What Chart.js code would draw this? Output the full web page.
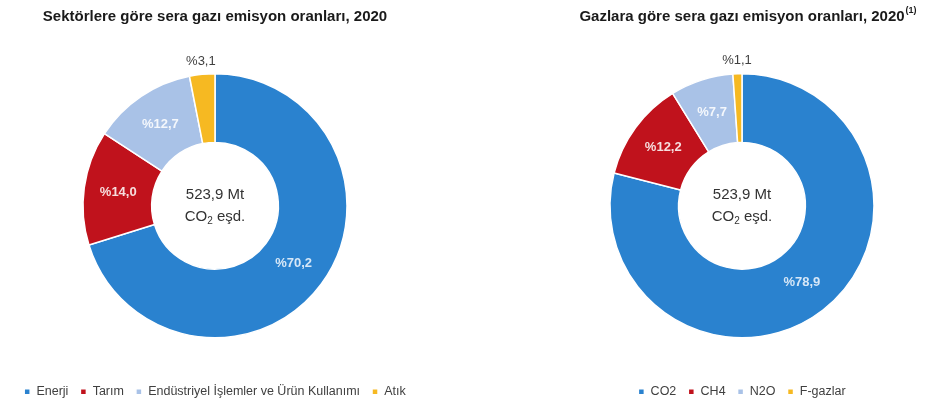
<!DOCTYPE html>
<html>
<head>
<meta charset="utf-8">
<script src="https://cdn.jsdelivr.net/npm/chart.js@4"></script>
<style>
  body { margin: 0; background: #fff; width: 951px; height: 408px; position: relative; overflow: hidden; }
  .box { position: absolute; top: 0; height: 408px; }
  #left { left: 0; width: 440px; }
  #right { left: 540px; width: 404px; }
</style>
</head>
<body>
<div class="box" id="left"><canvas id="sectorChart"></canvas></div>
<div class="box" id="right"><canvas id="gasChart"></canvas></div>
<script>
// Data

const sectorLabels = ["Enerji", "Tarım", "Endüstriyel İşlemler ve Ürün Kullanımı", "Atık"];
const sectorShares = [70.2, 14.0, 12.7, 3.1];

const gasLabels = ["CO2", "CH4", "N2O", "F-gazlar"];
const gasShares = [78.9, 12.2, 7.7, 1.1];

const totalEmission = "523,9";

const sliceColors = ["#2a82cf", "#c0121c", "#a9c2e7", "#f6b922"];
const labelColors = ["#d6e7f7", "#f6dede", "#f4f7fc", "#404040"];
const FONT = "'Liberation Sans', Arial, sans-serif";

// labels on slices
const sliceLabels = {
  id: "sliceLabels",
  afterDatasetsDraw(chart) {
    const ctx = chart.ctx;
    const values = chart.data.datasets[0].data;
    chart.getDatasetMeta(0).data.forEach((arc, i) => {
      const p = arc.getProps(["x", "y", "startAngle", "endAngle", "innerRadius", "outerRadius"], true);
      const mid = (p.startAngle + p.endAngle) / 2;
      const outside = values[i] < 5;
      const r = outside ? p.outerRadius + 13 : (p.innerRadius + p.outerRadius) / 2;
      ctx.save();
      ctx.font = outside ? `13px ${FONT}` : `bold 13px ${FONT}`;
      ctx.fillStyle = outside ? "#404040" : labelColors[i];
      ctx.textAlign = "center";
      ctx.textBaseline = "middle";
      ctx.fillText("%" + values[i].toFixed(1).replace(".", ","), p.x + Math.cos(mid) * r, p.y + Math.sin(mid) * r);
      ctx.restore();
    });
  },
};

// total in the hole
const centerText = {
  id: "centerText",
  afterDatasetsDraw(chart) {
    const ctx = chart.ctx;
    const arc = chart.getDatasetMeta(0).data[0];
    const cx = arc.x, cy = arc.y;
    ctx.save();
    ctx.fillStyle = "#333";
    ctx.textBaseline = "middle";
    ctx.font = `15px ${FONT}`;
    ctx.textAlign = "center";
    ctx.fillText(`${totalEmission} Mt`, cx, cy - 11);

    const w1 = ctx.measureText("CO").width;
    const w3 = ctx.measureText(" eşd.").width;
    ctx.font = `10px ${FONT}`;
    const w2 = ctx.measureText("2").width;
    let x = cx - (w1 + w2 + w3) / 2;
    ctx.textAlign = "left";
    ctx.font = `15px ${FONT}`;
    ctx.fillText("CO", x, cy + 11);
    x += w1;
    ctx.font = `10px ${FONT}`;
    ctx.fillText("2", x, cy + 15);
    x += w2;
    ctx.font = `15px ${FONT}`;
    ctx.fillText(" eşd.", x, cy + 11);
    ctx.restore();
  },
};

// footnote mark after the title
const titleNote = {
  id: "titleNote",
  afterDraw(chart) {
    const note = chart.options.plugins.titleNote && chart.options.plugins.titleNote.text;
    if (!note || !chart.titleBlock) return;
    const tb = chart.titleBlock;
    const ctx = chart.ctx;
    ctx.save();
    ctx.font = `bold 15px ${FONT}`;
    const w = ctx.measureText(chart.options.plugins.title.text).width;
    ctx.font = `bold 9px ${FONT}`;
    ctx.fillStyle = "#1a1a1a";
    ctx.textAlign = "left";
    ctx.textBaseline = "top";
    ctx.fillText(note, tb.left + tb.width / 2 + w / 2 + 1, tb.top + 6);
    ctx.restore();
  },
};

function makeDonut(id, title, labels, values, note, padRight) {
  return new Chart(id, {
    type: "doughnut",
    data: {
      labels: labels,
      datasets: [
        {
          data: values,
          backgroundColor: sliceColors,
          borderColor: "#fff",
          borderWidth: 1.5,
          radius: 132,
          cutout: "48%",
        },
      ],
    },
    options: {
      responsive: true,
      maintainAspectRatio: false,
      animation: false,
      layout: { padding: { top: 0, bottom: 0, right: padRight } },
      plugins: {
        title: {
          display: true,
          text: title,
          color: "#1a1a1a",
          font: { family: FONT, size: 15, weight: "bold" },
          padding: { top: 8, bottom: 12 },
        },
        legend: {
          position: "bottom",
          labels: {
            usePointStyle: true,
            pointStyle: "rect",
            boxWidth: 6,
            boxHeight: 6,
            padding: 12,
            color: "#404040",
            font: { family: FONT, size: 12.5 },
          },
        },
        tooltip: { enabled: false },
        titleNote: { text: note },
      },
    },
    plugins: [sliceLabels, centerText, titleNote],
  });
}

makeDonut("sectorChart", "Sektörlere göre sera gazı emisyon oranları, 2020", sectorLabels, sectorShares, "", 10);
makeDonut("gasChart", "Gazlara göre sera gazı emisyon oranları, 2020", gasLabels, gasShares, "(1)", 0);
</script>
</body>
</html>
